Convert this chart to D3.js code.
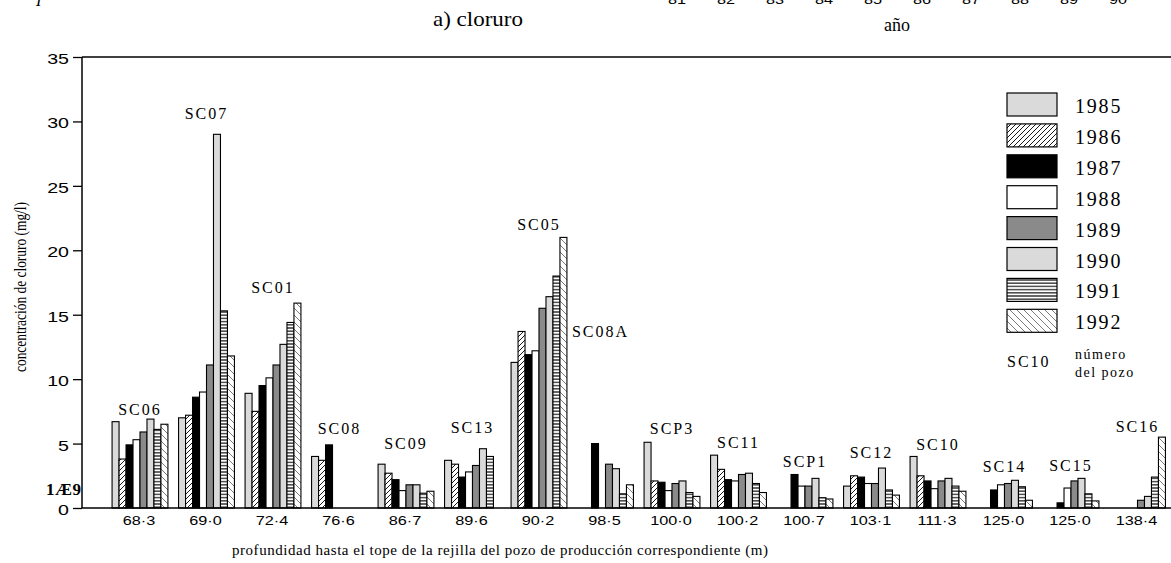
<!DOCTYPE html>
<html>
<head>
<meta charset="utf-8">
<script src="https://cdn.jsdelivr.net/npm/d3@7"></script>
<style>
  body { margin: 0; background: #fff; }
  svg { display: block; }
  .serif { font-family: 'Liberation Serif', 'DejaVu Serif', serif; }
  .sans { font-family: 'Liberation Sans', Arial, sans-serif; }
</style>
</head>
<body>
<svg id="chart" width="1171" height="563"></svg>
<script>
// well names and screen depth (m) for each group
const wells = ['SC06', 'SC07', 'SC01', 'SC08', 'SC09', 'SC13', 'SC05', 'SC08A',
  'SCP3', 'SC11', 'SCP1', 'SC12', 'SC10', 'SC14', 'SC15', 'SC16'];
const depths = ['68·3', '69·0', '72·4', '76·6', '86·7', '89·6', '90·2', '98·5',
  '100·0', '100·2', '100·7', '103·1', '111·3', '125·0', '125·0', '138·4'];
const years = [1985, 1986, 1987, 1988, 1989, 1990, 1991, 1992];

// chloride (mg/l) per well, one array per year (null = no sample)
const v1985 = [6.7, 7.0, 8.9, 4.0, 3.4, 3.7, 11.3, null, 5.1, 4.1, null, 1.7, 4.0, null, null, null];
const v1986 = [3.8, 7.2, 7.5, 3.7, 2.7, 3.4, 13.7, null, 2.1, 3.0, null, 2.5, 2.5, null, null, null];
const v1987 = [4.9, 8.6, 9.5, 4.9, 2.2, 2.4, 11.9, 5.0, 2.0, 2.2, 2.6, 2.4, 2.1, 1.4, 0.4, null];
const v1988 = [5.3, 9.0, 10.1, null, 1.35, 2.8, 12.2, null, 1.35, 2.1, 1.7, 1.9, 1.5, 1.8, 1.55, null];
const v1989 = [5.9, 11.1, 11.1, null, 1.8, 3.3, 15.5, 3.4, 1.9, 2.6, 1.7, 1.9, 2.1, 1.9, 2.1, 0.6];
const v1990 = [6.9, 29.0, 12.7, null, 1.8, 4.6, 16.4, 3.05, 2.1, 2.7, 2.3, 3.1, 2.3, 2.15, 2.3, 0.9];
const v1991 = [6.1, 15.3, 14.4, null, 1.15, 4.0, 18.0, 1.1, 1.2, 1.9, 0.8, 1.4, 1.7, 1.65, 1.1, 2.4];
const v1992 = [6.5, 11.8, 15.9, null, 1.3, null, 21.0, 1.8, 0.9, 1.2, 0.7, 1.0, 1.3, 0.6, 0.55, 5.5];

// level (mg/l) where each well name is written
const labelLevel = [7.2, 30.2, 16.7, 5.75, 4.6, 5.8, 21.6, 13.3,
  5.75, 4.65, 3.2, 3.9, 4.5, 2.8, 2.87, 5.9];

const yTicks = [0, 5, 10, 15, 20, 25, 30, 35];
const yearTicks = ['81', '82', '83', '84', '85', '86', '87', '88', '89', '90'];

const seriesValues = [v1985, v1986, v1987, v1988, v1989, v1990, v1991, v1992];

const width = 1171;
const plotLeft = 82;
const plotTop = 57;
const plotBottom = 508;

const svg = d3.select('#chart');

// patterns
const defs = svg.append('defs');

const p86 = defs.append('pattern')
  .attr('id', 'hatch86')
  .attr('patternUnits', 'userSpaceOnUse')
  .attr('width', 5).attr('height', 5);
p86.append('rect').attr('width', 5).attr('height', 5).attr('fill', '#fff');
p86.append('path')
  .attr('d', 'M0,5 L5,0 M-1,1 L1,-1 M4,6 L6,4')
  .attr('stroke', '#000').attr('stroke-width', 0.9);

const p91 = defs.append('pattern')
  .attr('id', 'stripes91')
  .attr('patternUnits', 'userSpaceOnUse')
  .attr('width', 4).attr('height', 3.2);
p91.append('rect').attr('width', 4).attr('height', 3.2).attr('fill', '#fff');
p91.append('line')
  .attr('x1', 0).attr('x2', 4).attr('y1', 1.6).attr('y2', 1.6)
  .attr('stroke', '#000').attr('stroke-width', 1.1);

const p92 = defs.append('pattern')
  .attr('id', 'hatch92')
  .attr('patternUnits', 'userSpaceOnUse')
  .attr('width', 7).attr('height', 7);
p92.append('rect').attr('width', 7).attr('height', 7).attr('fill', '#fff');
p92.append('path')
  .attr('d', 'M0,0 L7,7 M-1,6 L1,8 M6,-1 L8,1')
  .attr('stroke', '#444').attr('stroke-width', 0.7);

const fills = {
  1985: '#dadada',
  1986: 'url(#hatch86)',
  1987: '#000',
  1988: '#fff',
  1989: '#8a8a8a',
  1990: '#dadada',
  1991: 'url(#stripes91)',
  1992: 'url(#hatch92)',
};

// scales
const y = d3.scaleLinear().domain([0, 35]).range([plotBottom, plotTop]);

const x = d3.scaleBand()
  .domain(d3.range(wells.length))
  .range([106.75, 1170.75])
  .paddingInner(0.16)
  .paddingOuter(0.08);

const xYear = d3.scaleBand()
  .domain(years)
  .range([0, x.bandwidth()]);

// bars
const series = years.map((yr, i) => ({ year: yr, values: seriesValues[i] }));

const barsG = svg.append('g').attr('id', 'bars');

barsG.selectAll('.year-group')
  .data(series)
  .join('g')
  .attr('class', 'year-group')
  .attr('fill', (d) => fills[d.year])
  .selectAll('rect')
  .data((d) => d.values
    .map((v, i) => ({ year: d.year, well: i, value: v }))
    .filter((e) => e.value !== null))
  .join('rect')
  .attr('x', (d) => x(d.well) + xYear(d.year))
  .attr('y', (d) => y(d.value))
  .attr('width', xYear.bandwidth())
  .attr('height', (d) => y(0) - y(d.value))
  .attr('stroke', '#000')
  .attr('stroke-width', 1.1);

// frame lines
svg.append('line')
  .attr('x1', plotLeft).attr('x2', width)
  .attr('y1', plotTop).attr('y2', plotTop)
  .attr('stroke', '#000').attr('stroke-width', 1.5);
svg.append('line')
  .attr('x1', plotLeft).attr('x2', width)
  .attr('y1', plotBottom).attr('y2', plotBottom)
  .attr('stroke', '#000').attr('stroke-width', 1.5);
svg.append('line')
  .attr('x1', plotLeft).attr('x2', plotLeft)
  .attr('y1', plotTop).attr('y2', plotBottom)
  .attr('stroke', '#000').attr('stroke-width', 1.5);

// y axis
const yAxisG = svg.append('g')
  .attr('transform', `translate(${plotLeft},0)`)
  .call(d3.axisLeft(y).tickValues(yTicks).tickSize(9));

yAxisG.select('.domain').remove();
yAxisG.selectAll('.tick line').attr('stroke-width', 1.3);
yAxisG.selectAll('.tick text')
  .attr('class', 'sans')
  .attr('x', 0)
  .attr('font-size', 14)
  .attr('fill', '#000')
  .attr('transform', 'translate(-13,2) scale(1.4,1)');

svg.append('text')
  .attr('class', 'serif')
  .attr('x', 46).attr('y', 495)
  .attr('font-size', 17)
  .attr('font-weight', 'bold')
  .attr('letter-spacing', 0.5)
  .text('1Æ9');

svg.append('text')
  .attr('class', 'serif')
  .attr('transform', 'translate(26,287) rotate(-90)')
  .attr('text-anchor', 'middle')
  .attr('font-size', 17)
  .attr('textLength', 170)
  .attr('lengthAdjust', 'spacingAndGlyphs')
  .text('concentración de cloruro (mg/l)');

// x labels (depths)
svg.append('g')
  .selectAll('text')
  .data(depths)
  .join('text')
  .attr('class', 'sans')
  .attr('text-anchor', 'middle')
  .attr('font-size', 12.5)
  .attr('transform', (d, i) =>
    `translate(${x(i) + x.bandwidth() / 2 - 1},525) scale(1.3,1)`)
  .text((d) => d);

svg.append('text')
  .attr('class', 'serif')
  .attr('x', 232).attr('y', 555)
  .attr('font-size', 15)
  .attr('textLength', 536)
  .text('profundidad hasta el tope de la rejilla del pozo de producción correspondiente (m)');

// well names
svg.append('g')
  .selectAll('text')
  .data(wells)
  .join('text')
  .attr('class', 'serif')
  .attr('font-size', 16)
  .attr('letter-spacing', 2)
  .attr('text-anchor', (d) => (d === 'SC08A' ? 'start' : 'middle'))
  .attr('x', (d, i) => (d === 'SC08A'
    ? x(i - 1) + x.bandwidth() + 5
    : x(i) + x.bandwidth() / 2))
  .attr('y', (d, i) => y(labelLevel[i]))
  .text((d) => d);

// legend
const legendG = svg.append('g').attr('id', 'legend');
const rowStep = 30.9;

legendG.selectAll('rect')
  .data(years)
  .join('rect')
  .attr('x', 1007)
  .attr('y', (d, i) => 93 + i * rowStep)
  .attr('width', 50)
  .attr('height', 23)
  .attr('fill', (d) => fills[d])
  .attr('stroke', '#000')
  .attr('stroke-width', 1.2);

legendG.selectAll('text.year')
  .data(years)
  .join('text')
  .attr('class', 'year serif')
  .attr('x', 1075)
  .attr('y', (d, i) => 113 + i * rowStep)
  .attr('font-size', 20)
  .attr('letter-spacing', 1.8)
  .text((d) => d);

legendG.append('text')
  .attr('class', 'serif')
  .attr('x', 1007).attr('y', 367)
  .attr('font-size', 16)
  .attr('letter-spacing', 2)
  .text('SC10');
legendG.append('text')
  .attr('class', 'serif')
  .attr('x', 1075).attr('y', 359)
  .attr('font-size', 14)
  .attr('letter-spacing', 1.5)
  .text('número');
legendG.append('text')
  .attr('class', 'serif')
  .attr('x', 1075).attr('y', 377)
  .attr('font-size', 14)
  .attr('letter-spacing', 1.5)
  .text('del pozo');

// titles and cut-off bits at the top
svg.append('text')
  .attr('class', 'serif')
  .attr('x', 478).attr('y', 26)
  .attr('text-anchor', 'middle')
  .attr('font-size', 21)
  .attr('textLength', 90)
  .attr('lengthAdjust', 'spacingAndGlyphs')
  .text('a) cloruro');

svg.append('text')
  .attr('class', 'serif')
  .attr('x', 897).attr('y', 31)
  .attr('text-anchor', 'middle')
  .attr('font-size', 18)
  .text('año');

const yearAxis = d3.scalePoint().domain(yearTicks).range([677, 1118]);
svg.append('g')
  .selectAll('text')
  .data(yearTicks)
  .join('text')
  .attr('class', 'sans')
  .attr('text-anchor', 'middle')
  .attr('font-size', 12.5)
  .attr('transform', (d) => `translate(${yearAxis(d)},4) scale(1.3,1)`)
  .text((d) => d);

svg.append('text')
  .attr('class', 'serif')
  .attr('x', 36).attr('y', 6)
  .attr('font-size', 16)
  .attr('font-style', 'italic')
  .text('I');
</script>
</body>
</html>
